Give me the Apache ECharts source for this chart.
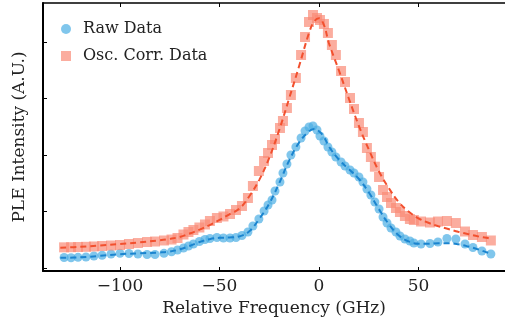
<!DOCTYPE html>
<html>
<head>
<meta charset="utf-8">
<script src="https://cdn.jsdelivr.net/npm/echarts@6/dist/echarts.min.js"></script>
<style>
  html, body { margin: 0; padding: 0; background: #fff; }
  #chart { width: 505px; height: 327px; }
</style>
</head>
<body>
<div id="chart"></div>
<script>
// measured points (GHz, arb. units)
var freq = [-128.1,-124.6,-121.1,-117.1,-113.1,-109.0,-104.5,-100.0,-95.5,-91.0,
  -86.4,-82.4,-77.9,-74.1,-71.1,-68.1,-65.6,-63.1,-60.1,-57.3,
  -54.8,-51.3,-48.0,-44.7,-41.7,-38.7,-35.7,-33.2,-30.2,-27.6,
  -25.6,-23.6,-22.1,-19.6,-18.1,-16.1,-14.1,-11.6,-9.0,-7.0,
  -5.0,-3.0,-1.0,0.5,2.5,4.5,6.5,8.5,11.1,13.1,
  15.6,17.6,20.1,22.1,24.1,26.1,28.1,30.2,32.2,34.2,
  36.2,38.7,40.7,43.2,45.7,47.7,51.3,55.8,59.8,64.3,
  68.8,73.4,77.4,81.9,86.4];
var rawData = [0.186,0.182,0.189,0.195,0.212,0.225,0.248,0.260,0.257,0.248,
  0.239,0.239,0.260,0.288,0.319,0.354,0.389,0.425,0.469,0.504,
  0.522,0.540,0.531,0.531,0.540,0.575,0.637,0.743,0.867,1.009,
  1.115,1.204,1.363,1.522,1.681,1.841,2.000,2.142,2.301,2.425,
  2.496,2.513,2.442,2.336,2.248,2.142,2.053,1.965,1.876,1.805,
  1.735,1.681,1.611,1.522,1.398,1.292,1.168,1.044,0.903,0.796,
  0.708,0.637,0.566,0.513,0.478,0.442,0.425,0.434,0.460,0.522,
  0.513,0.425,0.363,0.301,0.248];
var corrData = [0.366,0.368,0.372,0.375,0.381,0.389,0.398,0.407,0.425,0.442,
  0.460,0.469,0.487,0.504,0.531,0.593,0.637,0.673,0.717,0.770,
  0.832,0.885,0.912,0.956,1.027,1.097,1.239,1.451,1.717,1.894,
  2.035,2.177,2.283,2.478,2.602,2.832,3.062,3.363,3.770,4.088,
  4.354,4.478,4.425,4.389,4.319,4.159,3.947,3.770,3.487,3.292,
  3.009,2.814,2.566,2.407,2.124,1.965,1.793,1.611,1.381,1.257,
  1.150,1.062,0.991,0.920,0.867,0.850,0.823,0.805,0.823,0.832,
  0.796,0.646,0.584,0.549,0.487];

// fitted curves
var fitFreq = [-130,-120,-110,-100,-90,-80,-75,-70,-65,-60,-55,-50,-45,-40,-35,-30,-25,-20,-15,-10,-5,-2.5,0,2.5,5,10,15,20,25,30,35,40,45,50,55,60,65,70,75,80,85,87];
var rawFit = [0.18,0.19,0.215,0.245,0.26,0.275,0.29,0.33,0.39,0.46,0.51,0.535,0.54,0.56,0.65,0.87,1.14,1.50,1.90,2.22,2.42,2.46,2.42,2.32,2.15,1.92,1.75,1.58,1.34,1.05,0.78,0.58,0.47,0.43,0.43,0.44,0.44,0.42,0.38,0.33,0.27,0.25];
var corrFit = [0.36,0.375,0.40,0.425,0.455,0.49,0.515,0.55,0.61,0.68,0.76,0.85,0.95,1.05,1.27,1.56,1.95,2.44,3.00,3.57,4.16,4.36,4.42,4.30,3.98,3.50,3.00,2.52,2.10,1.72,1.42,1.17,1.00,0.88,0.80,0.74,0.69,0.64,0.60,0.56,0.53,0.52];

var xTicks = [-100, -50, 0, 50];
var yTicks = [0, 1, 2, 3, 4];

function pairs(xs, ys) {
  var out = [];
  for (var i = 0; i < xs.length; i++) out.push([xs[i], ys[i]]);
  return out;
}

var serif = 'DejaVu Serif';
var chart = echarts.init(document.getElementById('chart'));
chart.setOption({
  animation: false,
  backgroundColor: '#fff',
  grid: { left: 43, right: 0, top: 3, bottom: 56 },
  legend: {
    orient: 'vertical',
    left: 56, top: 16,
    itemWidth: 10, itemHeight: 10, itemGap: 11,
    textStyle: { fontFamily: serif, fontSize: 16, color: '#222', padding: [0, 0, 0, 7] },
    data: [
      { name: 'Raw Data', icon: 'circle' },
      { name: 'Osc. Corr. Data', icon: 'rect' }
    ]
  },
  xAxis: [{
    type: 'value', min: -138.7, max: 93.5,
    name: 'Relative Frequency (GHz)', nameLocation: 'middle', nameGap: 28,
    nameTextStyle: { fontFamily: serif, fontSize: 17, color: '#222' },
    axisLine: { onZero: false, lineStyle: { color: '#000', width: 2 } },
    axisTick: { inside: true, length: 4, customValues: xTicks, lineStyle: { color: '#000' } },
    axisLabel: {
      customValues: xTicks, margin: 7,
      fontFamily: serif, fontSize: 17, color: '#222',
      formatter: function (v) { return String(v).replace('-', '\u2212'); }
    },
    splitLine: { show: false }
  }, {
    type: 'value', position: 'top', min: -138.7, max: 93.5,
    axisLine: { onZero: false, lineStyle: { color: '#000', width: 1.5 } },
    axisTick: { inside: true, length: 4, customValues: xTicks, lineStyle: { color: '#000' } },
    axisLabel: { show: false },
    splitLine: { show: false }
  }],
  yAxis: {
    type: 'value', min: -0.053, max: 4.69,
    name: 'PLE Intensity (A.U.)', nameLocation: 'middle', nameGap: 15,
    nameTextStyle: { fontFamily: serif, fontSize: 17, color: '#222' },
    axisLine: { show: true, onZero: false, lineStyle: { color: '#000', width: 2 } },
    axisTick: { show: true, inside: true, length: 4, customValues: yTicks, lineStyle: { color: '#000' } },
    axisLabel: { show: false },
    splitLine: { show: false }
  },
  series: [{
    name: 'Raw Data', type: 'scatter', symbol: 'circle', symbolSize: 9,
    itemStyle: { color: '#4aaee4', opacity: 0.7 },
    data: pairs(freq, rawData)
  }, {
    name: 'Osc. Corr. Data', type: 'scatter', symbol: 'rect', symbolSize: 10,
    itemStyle: { color: '#fa8a76', opacity: 0.7 },
    data: pairs(freq, corrData)
  }, {
    name: 'raw fit', type: 'line', smooth: 0.4, showSymbol: false, z: 5,
    lineStyle: { color: '#1a84cf', width: 2, type: [6, 4] },
    data: pairs(fitFreq, rawFit)
  }, {
    name: 'corr fit', type: 'line', smooth: 0.4, showSymbol: false, z: 5,
    lineStyle: { color: '#f2502e', width: 2, type: [6, 4] },
    data: pairs(fitFreq, corrFit)
  }]
});
</script>
</body>
</html>
